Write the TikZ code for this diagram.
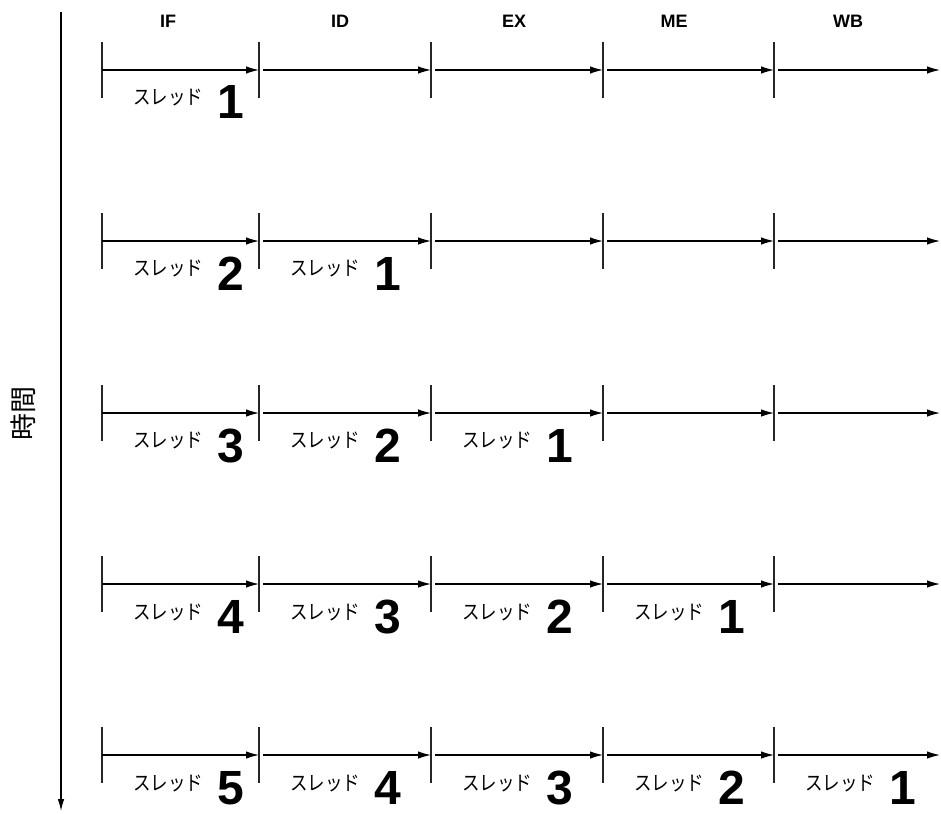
\documentclass[tikz,border=0pt]{standalone}
\usepackage{fontspec}
\setmainfont{Liberation Sans}
\newfontfamily\cjk{Noto Sans CJK JP}
\usetikzlibrary{arrows.meta}
\tikzset{
  tickline/.style={line width=1.4pt, draw=black!85},
  flow/.style={line width=1.2pt, draw=black, -{Latex[length=13pt,width=7.5pt]}},
  axisline/.style={line width=1.2pt, draw=black, -{Latex[length=12pt,width=6.5pt]}},
  thr/.style={font=\cjk\fontsize{17.5}{21}\selectfont, inner sep=0pt, anchor=west, yscale=1.15},
  num/.style={font=\fontsize{48}{50}\selectfont\bfseries, inner sep=0pt, anchor=base east, text depth=0pt},
  stagelab/.style={font=\fontsize{18}{21}\selectfont\bfseries, inner sep=0pt},
  timelab/.style={font=\cjk\fontsize{27}{30}\selectfont, inner sep=0pt, rotate=90}
}
\begin{document}
\begin{tikzpicture}[x=1pt,y=-1pt]
\useasboundingbox (0,0) rectangle (941,813);
% time axis
\coordinate (ttop) at (61,12);
\coordinate (tbot) at (61,811);
\draw[axisline] (ttop) -- (tbot);
\node[timelab] (tlabel) at (23,413) {時間};
% stage headers
\node[stagelab] (hIF) at (168,21) {IF};
\node[stagelab] (hID) at (340,21) {ID};
\node[stagelab] (hEX) at (514,21) {EX};
\node[stagelab] (hME) at (674,21) {ME};
\node[stagelab] (hWB) at (848,21) {WB};
% rows
\foreach \r/\y in {1/70,2/241,3/413,4/584,5/755}{
  \foreach \s/\x in {0/102,1/259,2/431,3/603,4/774,5/940}{
    \coordinate (p\r-\s) at (\x,\y);
  }
  \foreach \s/\x in {0/102,1/259,2/431,3/603,4/774}{
    \coordinate (ta\r-\s) at (\x,\y-28);
    \coordinate (tb\r-\s) at (\x,\y+28);
    \draw[tickline] (ta\r-\s) -- (tb\r-\s);
  }
  \foreach \s in {0,...,4}{
    \pgfmathtruncatemacro{\n}{\s+1}
    \ifnum\s=0
      \draw[flow] (p\r-\s) -- (p\r-\n);
    \else
      \draw[flow, shorten <=4pt] (p\r-\s) -- (p\r-\n);
    \fi
  }
}
% thread labels
\foreach \r/\y in {1/70,2/241,3/413,4/584,5/755}{
  \pgfmathtruncatemacro{\last}{\r-1}
  \foreach \s in {0,...,\last}{
    \pgfmathsetmacro{\x}{{102,259,431,603,774}[\s]}
    \pgfmathtruncatemacro{\t}{\r-\s}
    \node[thr] (k\r-\s) at (\x+31,\y+28) {スレッド};
    \node[num] (n\r-\s) at (\x+142,\y+49) {\t};
  }
}
\end{tikzpicture}
\end{document}
